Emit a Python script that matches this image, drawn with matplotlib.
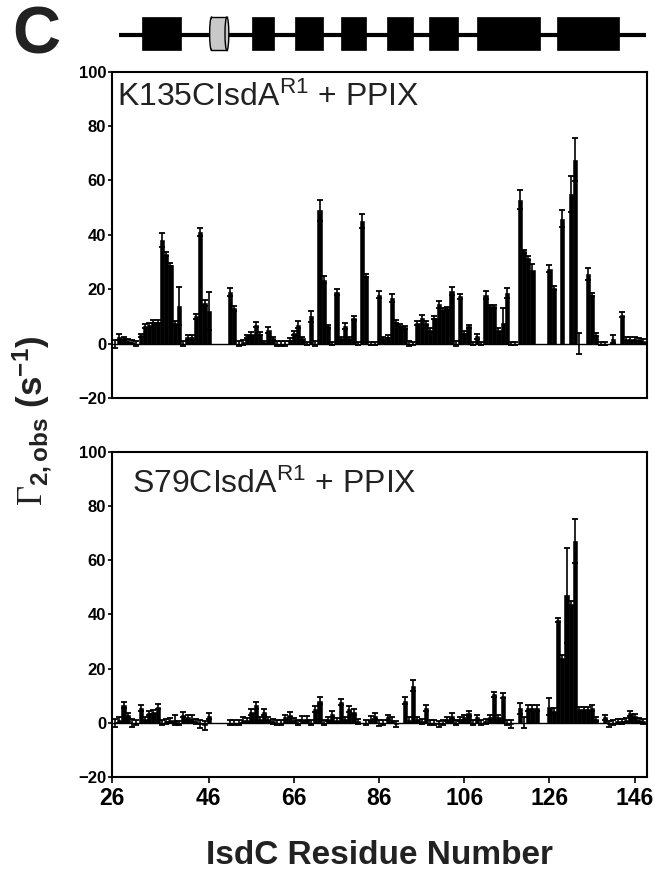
import numpy as np
import matplotlib.pyplot as plt
from matplotlib.patches import Rectangle, Ellipse

plt.rcParams['font.family'] = ['Liberation Sans', 'DejaVu Sans']
plt.rcParams['mathtext.fontset'] = 'custom'
plt.rcParams['mathtext.rm'] = 'Liberation Serif'
plt.rcParams['mathtext.bf'] = 'Liberation Sans:bold'
plt.rcParams['mathtext.sf'] = 'Liberation Sans'
plt.rcParams['mathtext.it'] = 'Liberation Sans:italic'

nan = np.nan

# residues 24 .. 148
residues = np.arange(24, 149)

k135_vals = [
    0, 2.5, 2, 1, 0.5, 0, 3, 6.4, 6.7, 8, 8, 38, 33, 29, 7.6, 13.7, 0,        # 24-40
    2.3, 2.3, 10, 41, 15, 12, nan, nan, nan, nan, 19, 13, 0, 0.5, 2.7, 3.5,    # 41-56
    7, 3.7, 0.5, 5, 2, 0, 0, 0, 1.5, 4, 7, 2, 0, 10, 0, 49, 23.5, 6.4,         # 57-74
    0, 19, 2, 6.4, 2, 9.5, 0, 45, 25, 0, 0, 18, 2, 2.5, 16.8, 8, 6.7, 6,       # 75-92
    0, 0, 7.6, 9.5, 7.6, 5, 9.5, 14.4, 12.5, 13, 19.3, 0, 17.4, 4, 6.4, 0,     # 93-108
    2.7, 0, 18, 13.7, 13.7, 5, 7.6, 18.6, 0, 0, 53, 34, 31.5, 27.2,            # 109-122
    nan, nan, nan, 27.5, 20.5, nan, 46, nan, 55, 67.7, 0, nan, 25.6, 18, 3.3,  # 123-137
    0, 0, nan, 1.7, nan, 10.7, 1.7, 1.7, 1.7, 1.5, 1,                          # 138-148
]
k135_errs = [
    1.5, 1, 0.6, 0.8, 0.8, 1, 0.6, 0.8, 0.8, 0.6, 0.6, 2.5, 0.6, 0.6, 0.6, 7, 1,
    0.8, 0.8, 1, 1.5, 1, 7, 0, 0, 0, 0, 1.5, 1, 1, 1, 0.6, 0.6,
    1, 0.6, 0.6, 1, 0.6, 1, 1, 1, 0.6, 0.8, 1.3, 0.6, 0.6, 2, 1, 4, 1.2, 0.6,
    0.6, 1.2, 0.6, 1.2, 0.6, 0.7, 0.6, 2.5, 0.6, 0.6, 0.6, 1.3, 0.6, 0.6, 1.5, 0.6, 0.6, 0.6,
    1, 0.6, 0.6, 1, 0.6, 0.6, 0.6, 1.2, 0.6, 0.6, 1.5, 0.8, 1, 0.6, 0.6, 0.6,
    1, 0.6, 1.5, 0.6, 0.6, 0.6, 5.5, 2, 0.6, 0.6, 3.5, 0.6, 0.6, 2.2,
    0, 0, 0, 1.3, 0.6, 0, 3, 0, 6.6, 7.8, 4, 0, 2.2, 0.6, 0.6,
    0.6, 0.6, 0, 1.5, 0, 1, 0.6, 0.6, 0.6, 0.6, 0.6,
]

s79_vals = [
    0, 1, 6.5, 2.7, 0, 0, 5.5, 1.5, 3.7, 4, 6, 0, 0.5, 1, 1, 0, 3,           # 24-40
    2, 1.5, 0.5, -0.5, -1, 2.5, nan, nan, nan, nan, 0, 0, 0, 1, 1, 4,          # 41-56
    6.4, 1.5, 4, 1.5, 0.5, 0, 0, 2, 3, 1, 0, 1.5, 1.5, 0, 5, 8.2, 0, 1.5,      # 57-74
    3.3, 1, 7.6, 1.5, 5, 4, 0.5, nan, 0, 1.5, 2.5, 0, 0, 2, 1, -0.5, nan, 8.2, # 75-92
    1, 13.7, 1.5, 0.5, 5.5, 0, 0, -0.5, 0, 1.5, 2.5, 0, 1.5, 2, 3.5, 0,       # 93-108
    2, 0, 0.5, 2, 10.5, 2, 10, 0, -0.5, nan, 5.4, 0, 5.5, 5.5,                 # 109-122
    5.5, nan, nan, 6, 4.5, 38, 24, 47, 44, 67, 5, 5, 5, 5.5, 1.5,              # 123-137
    nan, 2, -0.5, 0, 0.5, 0.5, 1, 3.5, 2.5, 1, 0.5,                            # 138-148
]
s79_errs = [
    1.5, 1, 1, 0.8, 1.5, 1, 1, 0.8, 0.8, 0.8, 1, 1, 1, 0.8, 2, 0.8, 1,
    0.8, 1.5, 0.8, 1.5, 1.5, 1, 0, 0, 0, 0, 1, 1, 1, 1, 0.8, 1,
    1.2, 0.8, 1, 0.8, 0.8, 1, 1, 1, 1, 0.8, 1, 1, 1, 1, 1.2, 1.2, 1, 0.8,
    1, 0.8, 1.2, 0.8, 1.2, 1, 0.8, 0, 1, 1, 1, 1.2, 1, 0.8, 1, 1, 0, 1.2,
    1, 2, 0.8, 1, 1.2, 1, 1, 1, 1, 0.8, 1, 1, 0.8, 1, 1, 1,
    1, 1, 0.8, 0.8, 1, 0.8, 1, 1, 1.5, 0, 2, 2, 1.2, 1,
    1, 0, 0, 3, 1, 0.7, 1, 17.5, 1, 8, 1, 1, 1, 1, 0.8,
    0, 1, 1, 1, 0.8, 0.8, 0.8, 1, 0.8, 0.8, 0.8,
]

# secondary structure of IsdC (residue ranges)
strands = [(30.2, 39.5), (56.2, 61.3), (66.2, 72.9), (77.1, 83.0),
           (87.9, 94.0), (97.8, 104.6), (108.9, 123.8), (127.7, 142.3)]
helix = (46.2, 50.7)

tick_pos = [23.2, 46, 66, 86, 106, 126, 146]
tick_lab = ['26', '46', '66', '86', '106', '126', '146']
xlim = (23.2, 148.9)

W, H = 655, 871
fig = plt.figure(figsize=(W / 100, H / 100), dpi=100)

def px_axes(x0, y0, x1, y1):
    return fig.add_axes([x0 / W, 1 - y1 / H, (x1 - x0) / W, (y1 - y0) / H])

ax_top = px_axes(111.7, 71.7, 647, 398)
ax_bot = px_axes(111.7, 451.7, 647, 777)

def panel(ax, vals, errs, title, tx, ty):
    vals = np.array(vals, dtype=float)
    errs = np.array(errs, dtype=float)
    ax.bar(residues, vals, width=1.0, color='black', edgecolor='black', linewidth=0.4,
           yerr=errs, capsize=2.2,
           error_kw=dict(elinewidth=1.2, capthick=1.3, ecolor='black'))
    ax.axhline(0, color='black', lw=1.0, zorder=0)
    ax.set_xlim(*xlim)
    ax.set_ylim(-20, 100)
    ax.set_yticks(np.arange(-20, 101, 20))
    ax.tick_params(axis='y', direction='out', length=3, width=1.2, pad=1,
                   labelsize=12)
    for lab in ax.get_yticklabels():
        lab.set_fontweight('bold')
    for sp in ax.spines.values():
        sp.set_linewidth(1.5)
    ax.text(tx, ty, title, transform=ax.transAxes, fontsize=23,
            color='#222222', ha='left', va='baseline')

panel(ax_top, k135_vals, k135_errs, r'K135CIsdA$^{\mathsf{R1}}$ + PPIX', 0.01, 0.896)
panel(ax_bot, s79_vals, s79_errs, r'S79CIsdA$^{\mathsf{R1}}$ + PPIX', 0.037, 0.873)

ax_top.set_xticks([])
ax_bot.set_xticks(tick_pos)
ax_bot.set_xticklabels(tick_lab, fontsize=16.5, fontweight='bold')
ax_bot.tick_params(axis='x', direction='out', length=4, width=1.2, pad=3)

fig.text(379 / W, 1 - 855 / H, 'IsdC Residue Number', fontsize=24,
         fontweight='bold', color='#222222', ha='center', va='center')
fig.text(32 / W, 1 - 421 / H, r'$\Gamma_{\mathbf{2,obs}}$ (s$^{\mathbf{-1}}$)',
         rotation=90, fontsize=25, fontweight='bold', color='#222222',
         ha='center', va='center')
fig.text(12 / W, 1 - 54 / H, 'C', fontsize=48, fontweight='bold',
         color='#222222', ha='left', va='baseline')

# protein topology schematic
ax_ss = px_axes(111.7, 10, 647, 60)
ax_ss.set_xlim(*xlim)
ax_ss.set_ylim(0, 1)
ax_ss.axis('off')
ax_ss.plot([24.8, 148.6], [0.49, 0.49], color='black', lw=3, solid_capstyle='butt')
for s, e in strands:
    ax_ss.add_patch(Rectangle((s, 0.19), e - s, 0.67, facecolor='black',
                              edgecolor='black', lw=0.5, zorder=3))
h0, h1 = helix
ax_ss.add_patch(Ellipse((h0 + 0.45, 0.525), 0.9, 0.67, facecolor='#c8c8c8',
                        edgecolor='black', lw=1.0, zorder=3))
ax_ss.add_patch(Rectangle((h0 + 0.45, 0.19), h1 - h0 - 0.9, 0.67,
                          facecolor='#c8c8c8', edgecolor='none', zorder=4))
ax_ss.plot([h0 + 0.45, h1 - 0.45], [0.19, 0.19], color='black', lw=1.0, zorder=5)
ax_ss.plot([h0 + 0.45, h1 - 0.45], [0.86, 0.86], color='black', lw=1.0, zorder=5)
ax_ss.add_patch(Ellipse((h1 - 0.45, 0.525), 0.9, 0.67, facecolor='#c8c8c8',
                        edgecolor='black', lw=1.0, zorder=6))

fig.savefig('out.png', dpi=100)
